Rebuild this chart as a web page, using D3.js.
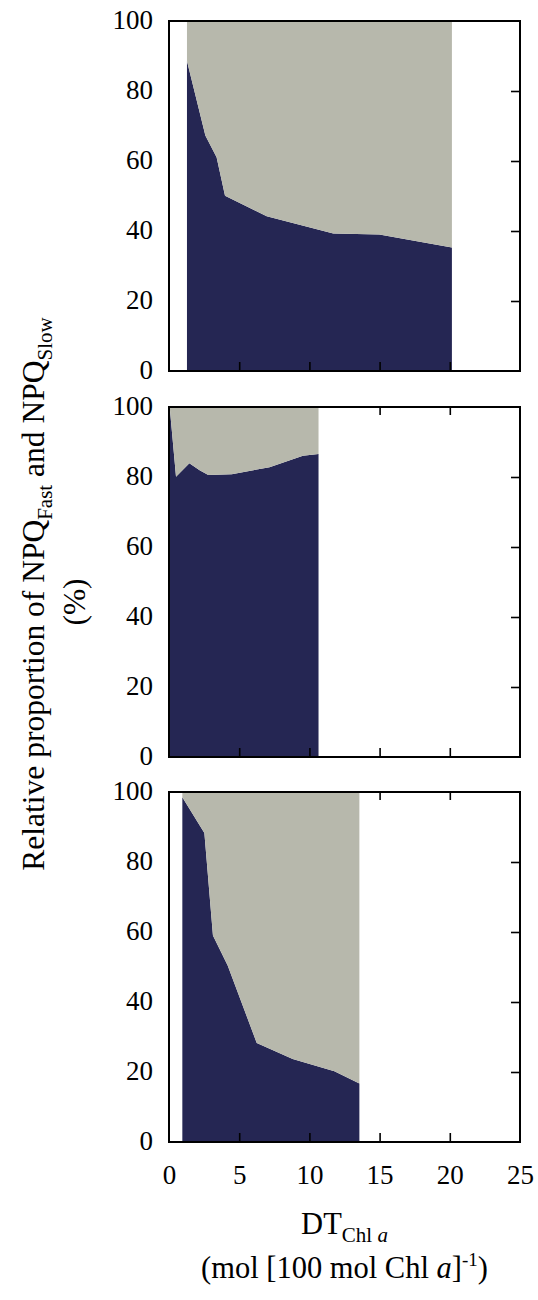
<!DOCTYPE html>
<html>
<head>
<meta charset="utf-8">
<script src="https://cdn.jsdelivr.net/npm/d3@7"></script>
<style>
  html, body { margin: 0; padding: 0; background: #fff; }
  svg { display: block; }
  text { font-family: "Liberation Serif", "Times New Roman", serif; fill: #000; }
</style>
</head>
<body>
<svg id="chart" width="538" height="1300"></svg>
<script>
// DT (mol per 100 mol Chl a) and the fast-phase share (%) for each panel;
// the slow-phase share fills the remainder up to 100 %.
const dtA   = [1.28, 2.59, 3.39, 3.99, 6.96, 11.7, 14.98, 20.15];
const fastA = [88.6, 67.3, 61.1, 50.1, 44.2, 39.3, 39.0, 35.3];

const dtB   = [0.05, 0.5, 1.45, 2.18, 2.8, 4.47, 7.16, 9.54, 10.65];
const fastB = [100, 80.1, 83.9, 81.9, 80.6, 80.8, 82.8, 86.1, 86.6];

const dtC   = [0.95, 2.52, 3.13, 4.18, 6.25, 8.81, 11.78, 13.56];
const fastC = [98.5, 88.3, 59.0, 50.4, 28.3, 23.7, 20.2, 16.7];

const xTickValues = [0, 5, 10, 15, 20, 25];
const yTickValues = [0, 20, 40, 60, 80, 100];

const panels = [
  { dt: dtA, fast: fastA },
  { dt: dtB, fast: fastB },
  { dt: dtC, fast: fastC }
];

const colFast = "#252653";
const colSlow = "#b7b8ac";

const svg = d3.select("#chart");
const left = 169, plotW = 351, plotH = 350;
const tops = [21, 407, 792];

const x = d3.scaleLinear().domain([0, 25]).range([0, plotW]);
const y = d3.scaleLinear().domain([0, 100]).range([plotH, 0]);

panels.forEach((p, i) => {
  const g = svg.append("g").attr("transform", `translate(${left},${tops[i]})`);
  const rows = p.dt.map((d, k) => ({ dt: d, fast: p.fast[k], slow: 100 - p.fast[k] }));
  const stacked = d3.stack().keys(["fast", "slow"])(rows);

  // inward ticks along the top sit beneath the filled areas
  g.append("g").call(
    d3.axisTop(x).tickValues(xTickValues.slice(1, -1)).tickSize(-8).tickFormat("")
  ).call(a => { a.select(".domain").remove(); a.selectAll("line").attr("stroke", "#000").attr("stroke-width", 1.6); });

  const area = d3.area()
    .x(d => x(d.data.dt))
    .y0(d => y(d[0]))
    .y1(d => y(d[1]));

  g.selectAll("path.layer").data(stacked).join("path")
    .attr("class", "layer")
    .attr("fill", (d, k) => k === 0 ? colFast : colSlow)
    .attr("d", area);

  // inward ticks along the bottom and right edges
  g.append("g").attr("transform", `translate(0,${plotH})`).call(
    d3.axisBottom(x).tickValues(xTickValues.slice(1, -1)).tickSize(-9).tickFormat("")
  ).call(a => { a.select(".domain").remove(); a.selectAll("line").attr("stroke", "#000").attr("stroke-width", 1.6); });

  g.append("g").attr("transform", `translate(${plotW},0)`).call(
    d3.axisRight(y).tickValues(yTickValues.slice(1, -1)).tickSize(-9).tickFormat("")
  ).call(a => { a.select(".domain").remove(); a.selectAll("line").attr("stroke", "#000").attr("stroke-width", 1.6); });

  // y tick labels
  g.append("g").call(d3.axisLeft(y).tickValues(yTickValues).tickSize(0).tickPadding(16))
    .call(a => {
      a.select(".domain").remove();
      a.selectAll("text").attr("font-size", 27).attr("dy", "0.27em")
        .style("font-family", '"Liberation Serif", serif');
    });

  // frame
  g.append("rect").attr("x", 0).attr("y", 0).attr("width", plotW).attr("height", plotH)
    .attr("fill", "none").attr("stroke", "#000").attr("stroke-width", 2);

  if (i === 2) {
    g.append("g").attr("transform", `translate(0,${plotH})`)
      .call(d3.axisBottom(x).tickValues(xTickValues).tickSize(0).tickPadding(23))
      .call(a => {
        a.select(".domain").remove();
        a.selectAll("text").attr("font-size", 27).attr("dy", "0.71em")
          .style("font-family", '"Liberation Serif", serif');
      });
  }
});

// x-axis title
const cx = left + plotW / 2;
const xt1 = svg.append("text").attr("x", cx).attr("y", 1234).attr("text-anchor", "middle").attr("font-size", 30.5);
xt1.append("tspan").text("DT");
xt1.append("tspan").attr("font-size", 21).attr("dy", 8).text("Chl ");
xt1.append("tspan").attr("font-size", 21).attr("font-style", "italic").text("a");

const xt2 = svg.append("text").attr("x", cx).attr("y", 1278).attr("text-anchor", "middle").attr("font-size", 30.5);
xt2.append("tspan").text("(mol [100 mol Chl ");
xt2.append("tspan").attr("font-style", "italic").text("a");
xt2.append("tspan").text("]");
xt2.append("tspan").attr("font-size", 19).attr("dy", -12).text("-1");
xt2.append("tspan").attr("dy", 12).text(")");

// y-axis title (rotated)
const cy = 594;
const yt1 = svg.append("text").attr("transform", `translate(44,${cy}) rotate(-90)`)
  .attr("text-anchor", "middle").attr("font-size", 31.5);
yt1.append("tspan").text("Relative proportion of NPQ");
yt1.append("tspan").attr("font-size", 21).attr("dy", 8).text("Fast");
yt1.append("tspan").attr("dy", -8).text(" and NPQ");
yt1.append("tspan").attr("font-size", 21).attr("dy", 8).text("Slow");

svg.append("text").attr("transform", `translate(85,${cy + 8}) rotate(-90)`)
  .attr("text-anchor", "middle").attr("font-size", 31.5).text("(%)");
</script>
</body>
</html>
